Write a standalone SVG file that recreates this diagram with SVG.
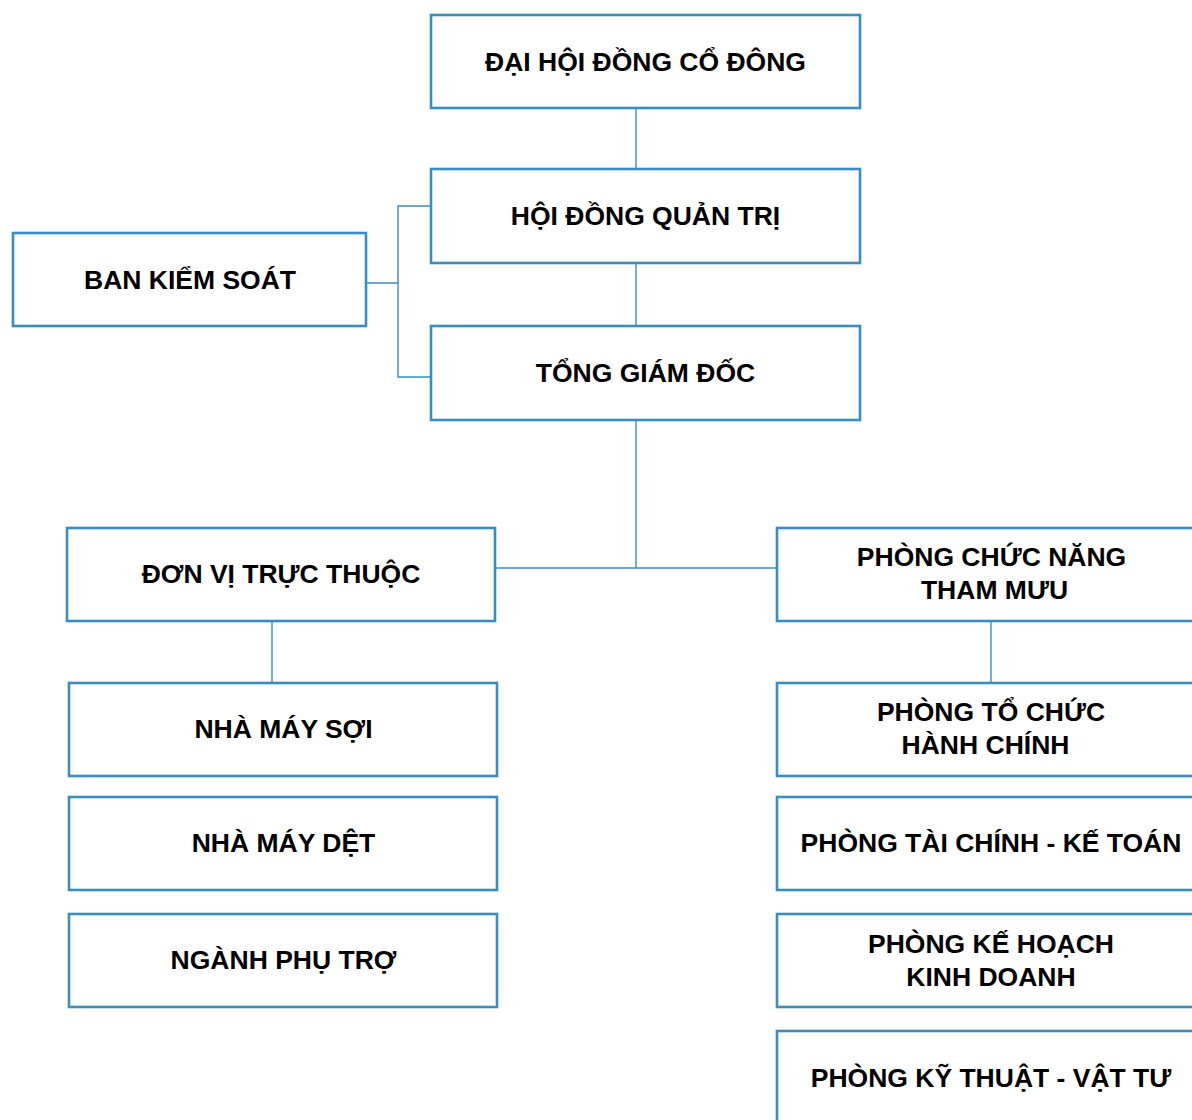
<svg xmlns="http://www.w3.org/2000/svg" width="1192" height="1120" viewBox="0 0 1192 1120">
  <style>
    .box { fill: #ffffff; stroke: #3a8dc0; stroke-width: 2.6; }
    .lbl { font-family: "Liberation Sans", Arial, sans-serif; font-weight: bold; font-size: 26.5px; fill: #000000; text-anchor: middle; }
    .conn { fill: none; stroke: #3a8dc0; stroke-width: 1.4; }
  </style>
  <rect width="1192" height="1120" fill="#ffffff"/>

  <!-- connectors -->
  <g id="connectors" class="conn">
    <path d="M636 108 V169"/>
    <path d="M636 263 V326"/>
    <path d="M636 420 V568"/>
    <path d="M496 568 H777"/>
    <path d="M367 283 H398 M431 206 H398 V377 H431"/>
    <path d="M272 621 V683"/>
    <path d="M991 621 V683"/>
  </g>

  <g id="dai-hoi-dong-co-dong">
    <rect class="box" x="431" y="15" width="429" height="93"/>
    <text class="lbl" x="645.5" y="71">ĐẠI HỘI ĐỒNG CỔ ĐÔNG</text>
  </g>
  <g id="hoi-dong-quan-tri">
    <rect class="box" x="431" y="169" width="429" height="94"/>
    <text class="lbl" x="645.5" y="225">HỘI ĐỒNG QUẢN TRỊ</text>
  </g>
  <g id="ban-kiem-soat">
    <rect class="box" x="13" y="233" width="353" height="93"/>
    <text class="lbl" x="190" y="289">BAN KIỂM SOÁT</text>
  </g>
  <g id="tong-giam-doc">
    <rect class="box" x="431" y="326" width="429" height="94"/>
    <text class="lbl" x="645.5" y="382">TỔNG GIÁM ĐỐC</text>
  </g>

  <g id="don-vi-truc-thuoc">
    <rect class="box" x="67" y="528" width="428" height="93"/>
    <text class="lbl" x="281" y="583">ĐƠN VỊ TRỰC THUỘC</text>
  </g>
  <g id="nha-may-soi">
    <rect class="box" x="69" y="683" width="428" height="93"/>
    <text class="lbl" x="283.5" y="738">NHÀ MÁY SỢI</text>
  </g>
  <g id="nha-may-det">
    <rect class="box" x="69" y="797" width="428" height="93"/>
    <text class="lbl" x="283.5" y="852">NHÀ MÁY DỆT</text>
  </g>
  <g id="nganh-phu-tro">
    <rect class="box" x="69" y="914" width="428" height="93"/>
    <text class="lbl" x="283.5" y="969">NGÀNH PHỤ TRỢ</text>
  </g>

  <g id="phong-chuc-nang">
    <rect class="box" x="777" y="528" width="428" height="93"/>
    <text class="lbl" x="991.5" y="566">PHÒNG CHỨC NĂNG</text>
    <text class="lbl" x="994.5" y="599">THAM MƯU</text>
  </g>
  <g id="phong-to-chuc">
    <rect class="box" x="777" y="683" width="428" height="93"/>
    <text class="lbl" x="991" y="721">PHÒNG TỔ CHỨC</text>
    <text class="lbl" x="985.5" y="754">HÀNH CHÍNH</text>
  </g>
  <g id="phong-tai-chinh">
    <rect class="box" x="777" y="797" width="428" height="93"/>
    <text class="lbl" x="991" y="852">PHÒNG TÀI CHÍNH - KẾ TOÁN</text>
  </g>
  <g id="phong-ke-hoach">
    <rect class="box" x="777" y="914" width="428" height="93"/>
    <text class="lbl" x="991" y="953">PHÒNG KẾ HOẠCH</text>
    <text class="lbl" x="991" y="986">KINH DOANH</text>
  </g>
  <g id="phong-ky-thuat">
    <rect class="box" x="777" y="1031" width="428" height="100"/>
    <text class="lbl" x="991" y="1087">PHÒNG KỸ THUẬT - VẬT TƯ</text>
  </g>
</svg>
